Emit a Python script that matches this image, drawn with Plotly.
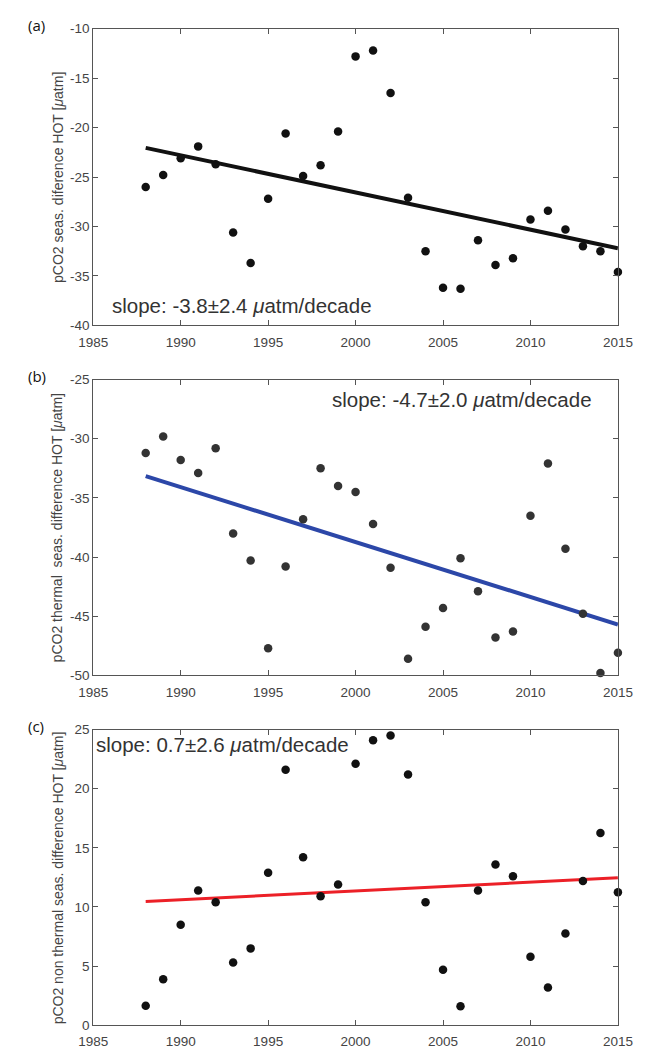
import plotly.graph_objects as go

years = list(range(1988, 2016))

# Panel (a): pCO2 seasonal difference
pco2_a = [-26.0, -24.8, -23.1, -21.9, -23.7, -30.6, -33.7, -27.2, -20.6, -24.9, -23.8,
          -20.4, -12.8, -12.2, -16.5, -27.1, -32.5, -36.2, -36.3, -31.4, -33.9, -33.2,
          -29.3, -28.4, -30.3, -32.0, -32.5, -34.6]
# Panel (b): thermal component
pco2_b = [-31.2, -29.8, -31.8, -32.9, -30.8, -38.0, -40.3, -47.7, -40.8, -36.8, -32.5,
          -34.0, -34.5, -37.2, -40.9, -48.6, -45.9, -44.3, -40.1, -42.9, -46.8, -46.3,
          -36.5, -32.1, -39.3, -44.8, -49.8, -48.1]
# Panel (c): non-thermal component
pco2_c = [1.64, 3.9, 8.5, 11.4, 10.4, 5.3, 6.5, 12.9, 21.6, 14.2, 10.9,
          11.9, 22.1, 24.1, 24.5, 21.2, 10.4, 4.7, 1.6, 11.4, 13.6, 12.6,
          5.8, 3.2, 7.75, 12.2, 16.25, 11.25]

trend_years = [1988, 2015]
trend_a = [-22.05, -32.2]
trend_b = [-33.16, -45.7]
trend_c = [10.47, 12.47]

x_ticks = [1985, 1990, 1995, 2000, 2005, 2010, 2015]
y_ticks_a = [-40, -35, -30, -25, -20, -15, -10]
y_ticks_b = [-50, -45, -40, -35, -30, -25]
y_ticks_c = [0, 5, 10, 15, 20, 25]

W, H = 652, 1052
x0, x1 = 82, 632
panels = [
    (22, 323, pco2_a, trend_a, "#111111", "#111111", [-40, -10], y_ticks_a,
     "pCO2 seas. diference HOT [<i>μ</i>atm]", "(a)",
     "slope: -3.8±2.4 <i>μ</i>atm/decade", (100, 303)),
    (378, 678, pco2_b, trend_b, "#2c47a8", "#333333", [-50, -25], y_ticks_b,
     "pCO2 thermal  seas. difference HOT [<i>μ</i>atm]", "(b)",
     "slope: -4.7±2.0 <i>μ</i>atm/decade", (330, 398)),
    (733, 1033, pco2_c, trend_c, "#ec2027", "#111111", [0, 25], y_ticks_c,
     "pCO2 non thermal seas. difference HOT [<i>μ</i>atm]", "(c)",
     "slope: 0.7±2.6 <i>μ</i>atm/decade", (83, 748)),
]

fig = go.Figure()
axis_color = "#555555"
base_font = "Liberation Sans, Arial, sans-serif"
tick_font = dict(family=base_font, size=13.5, color="#444444")
annotations = []
for i, (top, bot, data, trend, lcol, mcol, yr, yt, ytitle, lab, stxt, spos) in enumerate(panels):
    n = "" if i == 0 else str(i + 1)
    xa, ya = "x" + n, "y" + n
    fig.add_trace(go.Scatter(x=trend_years, y=trend, mode="lines",
                             line=dict(color=lcol, width=4 if i < 2 else 3),
                             xaxis=xa, yaxis=ya, showlegend=False, cliponaxis=False))
    fig.add_trace(go.Scatter(x=years, y=data, mode="markers",
                             marker=dict(color=mcol, size=8.5),
                             xaxis=xa, yaxis=ya, showlegend=False, cliponaxis=False))
    dom_y = [(H - bot) / H, (H - top) / H]
    fig.update_layout(**{
        "xaxis" + n: dict(domain=[x0 / W, x1 / W], range=[1985, 2015], tickvals=x_ticks,
                          ticktext=[str(v) for v in x_ticks], ticklabelstandoff=4,
                          ticks="inside", ticklen=5, tickcolor=axis_color, showline=True,
                          linecolor=axis_color, linewidth=1, mirror="ticks", showgrid=False,
                          zeroline=False, tickfont=tick_font, anchor=ya),
        "yaxis" + n: dict(domain=dom_y, range=yr, tickvals=yt,
                          ticktext=[str(v) for v in yt],
                          ticks="inside", ticklen=5, tickcolor=axis_color, showline=True,
                          linecolor=axis_color, linewidth=1, mirror="ticks", showgrid=False,
                          zeroline=False, tickfont=tick_font, anchor=xa),
    })
    # y-axis title at a fixed horizontal position
    annotations.append(dict(x=45 / W, y=(H - (top + bot) / 2) / H, xref="paper", yref="paper",
                            text=ytitle, showarrow=False, textangle=-90,
                            xanchor="center", yanchor="middle",
                            font=dict(family=base_font, size=14, color="#444444")))
    annotations.append(dict(x=12 / W, y=(H - (top - 4)) / H, xref="paper", yref="paper",
                            text=lab, showarrow=False, xanchor="left", yanchor="middle",
                            font=dict(family="Open Sans, sans-serif", size=15, color="#111111")))
    annotations.append(dict(x=spos[0] / W, y=(H - spos[1]) / H, xref="paper", yref="paper",
                            text=stxt, showarrow=False, xanchor="left", yanchor="middle",
                            font=dict(family=base_font, size=20.5, color="#333333")))

fig.update_layout(width=W, height=H, margin=dict(l=0, r=0, t=0, b=0),
                  paper_bgcolor="white", plot_bgcolor="white", annotations=annotations)
fig.write_html("out.html")
